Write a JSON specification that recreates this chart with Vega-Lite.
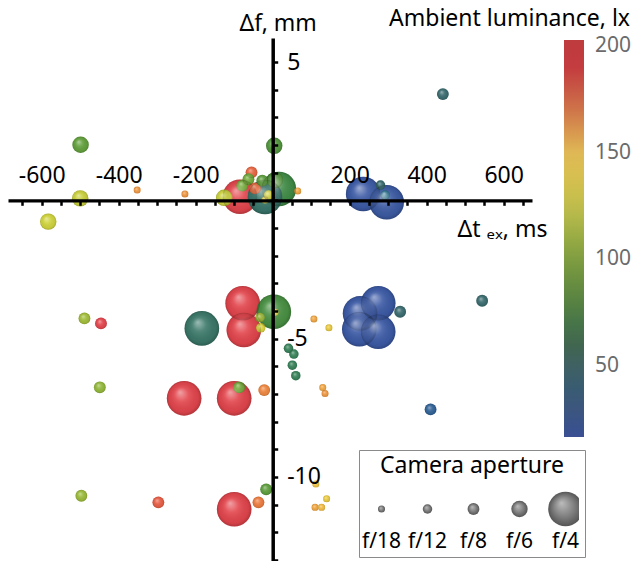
{
  "$schema": "https://vega.github.io/schema/vega-lite/v6.json",
  "autosize": {"type": "none"},
  "padding": {"left": 8, "top": 38, "right": 102, "bottom": 0},
  "width": 524,
  "height": 523,
  "config": {"font": "Noto Sans", "view": {"stroke": null}},
  "title": {"text": "Ambient luminance, lx", "anchor": "end", "frame": "group", "dx": 98, "dy": 47, "offset": 10, "baseline": "alphabetic", "fontSize": 23, "fontWeight": "normal", "color": "black"},
  "data": {"values": [
    {"t": -85, "f": 0.13, "lx": 195, "ap": "f/4"},
    {"t": 16, "f": 0.41, "lx": 72, "ap": "f/4"},
    {"t": -20, "f": 0.12, "lx": 55, "ap": "f/4"},
    {"t": 235, "f": 0.23, "lx": 20, "ap": "f/4"},
    {"t": 296, "f": -0.07, "lx": 22, "ap": "f/4"},
    {"t": -184, "f": -4.63, "lx": 57, "ap": "f/4"},
    {"t": -78, "f": -3.72, "lx": 195, "ap": "f/4"},
    {"t": -75, "f": -4.69, "lx": 195, "ap": "f/4"},
    {"t": 3, "f": -4.03, "lx": 78, "ap": "f/4"},
    {"t": -230, "f": -7.16, "lx": 195, "ap": "f/4"},
    {"t": -100, "f": -7.16, "lx": 195, "ap": "f/4"},
    {"t": -100, "f": -11.17, "lx": 195, "ap": "f/4"},
    {"t": 227, "f": -4.09, "lx": 20, "ap": "f/4"},
    {"t": 225, "f": -4.66, "lx": 20, "ap": "f/4"},
    {"t": 274, "f": -3.72, "lx": 20, "ap": "f/4"},
    {"t": 274, "f": -4.75, "lx": 20, "ap": "f/4"},
    {"t": -499, "f": 2.01, "lx": 92, "ap": "f/6"},
    {"t": 4, "f": 1.97, "lx": 85, "ap": "f/6"},
    {"t": -500, "f": 0.07, "lx": 125, "ap": "f/6"},
    {"t": -583, "f": -0.77, "lx": 127, "ap": "f/6"},
    {"t": -126, "f": 0.09, "lx": 125, "ap": "f/6"},
    {"t": 6, "f": 0.73, "lx": 85, "ap": "f/6"},
    {"t": 442, "f": 3.84, "lx": 45, "ap": "f/8"},
    {"t": -55, "f": 1.01, "lx": 175, "ap": "f/8"},
    {"t": -63, "f": 0.76, "lx": 98, "ap": "f/8"},
    {"t": -79, "f": 0.53, "lx": 100, "ap": "f/8"},
    {"t": -46, "f": 0.43, "lx": 172, "ap": "f/8"},
    {"t": -27, "f": 0.71, "lx": 90, "ap": "f/8"},
    {"t": -489, "f": -4.27, "lx": 112, "ap": "f/8"},
    {"t": -446, "f": -4.45, "lx": 188, "ap": "f/8"},
    {"t": 331, "f": -4.03, "lx": 45, "ap": "f/8"},
    {"t": 544, "f": -3.63, "lx": 45, "ap": "f/8"},
    {"t": -449, "f": -6.76, "lx": 108, "ap": "f/8"},
    {"t": -87, "f": -6.76, "lx": 100, "ap": "f/8"},
    {"t": -22, "f": -6.86, "lx": 165, "ap": "f/8"},
    {"t": 410, "f": -7.56, "lx": 32, "ap": "f/8"},
    {"t": -497, "f": -10.68, "lx": 110, "ap": "f/8"},
    {"t": -297, "f": -10.92, "lx": 178, "ap": "f/8"},
    {"t": -37, "f": -10.92, "lx": 168, "ap": "f/8"},
    {"t": -17, "f": -10.45, "lx": 90, "ap": "f/8"},
    {"t": -11, "f": 0.19, "lx": 130, "ap": "f/12"},
    {"t": 280, "f": 0.55, "lx": 45, "ap": "f/12"},
    {"t": 292, "f": 0.19, "lx": 38, "ap": "f/12"},
    {"t": -33, "f": -4.24, "lx": 112, "ap": "f/12"},
    {"t": -31, "f": -4.61, "lx": 132, "ap": "f/12"},
    {"t": 41, "f": -5.35, "lx": 65, "ap": "f/12"},
    {"t": 55, "f": -5.56, "lx": 65, "ap": "f/12"},
    {"t": 51, "f": -5.96, "lx": 65, "ap": "f/12"},
    {"t": 60, "f": -6.34, "lx": 65, "ap": "f/12"},
    {"t": -352, "f": 0.37, "lx": 160, "ap": "f/18"},
    {"t": -228, "f": 0.23, "lx": 160, "ap": "f/18"},
    {"t": -20, "f": 0.01, "lx": 135, "ap": "f/18"},
    {"t": 65, "f": 0.34, "lx": 155, "ap": "f/18"},
    {"t": 6, "f": -4.05, "lx": 135, "ap": "f/18"},
    {"t": 107, "f": -4.29, "lx": 155, "ap": "f/18"},
    {"t": 146, "f": -4.61, "lx": 140, "ap": "f/18"},
    {"t": 130, "f": -6.77, "lx": 155, "ap": "f/18"},
    {"t": 136, "f": -6.98, "lx": 160, "ap": "f/18"},
    {"t": 112, "f": -10.26, "lx": 145, "ap": "f/18"},
    {"t": 140, "f": -10.79, "lx": 140, "ap": "f/18"},
    {"t": 110, "f": -11.1, "lx": 155, "ap": "f/18"},
    {"t": 127, "f": -11.1, "lx": 148, "ap": "f/18"}
  ]},
  "encoding": {
    "x": {
      "field": "t", "type": "quantitative",
      "scale": {"domain": [-687.5, 673.5], "nice": false, "zero": false},
      "axis": {
        "orient": "top", "offset": -162.3, "zindex": 1, "grid": false,
        "title": "Δt ₑₓ, ms", "titleAngle": 0, "titleX": 539, "titleY": 36,
        "titleAlign": "right", "titleBaseline": "alphabetic",
        "titleFontSize": 23, "titleFontWeight": "normal", "titleColor": "black",
        "values": [-650, -600, -550, -500, -450, -400, -350, -300, -250, -200, -150, -100, -50, 0, 50, 100, 150, 200, 250, 300, 350, 400, 450, 500, 550, 600, 650],
        "labelExpr": "datum.value % 200 == 0 && datum.value != 0 ? '' + datum.value : ''",
        "labelFontSize": 23, "labelColor": "black", "labelPadding": 18,
        "labelFlush": false, "labelOverlap": false,
        "tickSize": -5, "tickWidth": 2.5, "tickColor": "black",
        "domainColor": "black", "domainWidth": 3.3
      }
    },
    "y": {
      "field": "f", "type": "quantitative",
      "scale": {"domain": [-13.04, 5.868], "nice": false, "zero": false},
      "axis": {
        "orient": "right", "offset": -259.3, "zindex": 1, "grid": false,
        "title": "Δf, mm", "titleAngle": 0, "titleX": 5, "titleY": -8,
        "titleAlign": "center", "titleBaseline": "alphabetic",
        "titleFontSize": 23, "titleFontWeight": "normal", "titleColor": "black",
        "values": [-13, -12, -11, -10, -9, -8, -7, -6, -5, -4, -3, -2, -1, 0, 1, 2, 3, 4, 5],
        "labelExpr": "datum.value == 5 || datum.value == -5 || datum.value == -10 ? '' + datum.value : ''",
        "labelFontSize": 23, "labelColor": "black", "labelPadding": 9,
        "labelFlush": false, "labelOverlap": false,
        "tickSize": 5, "tickWidth": 2.5, "tickColor": "black",
        "domainColor": "black", "domainWidth": 3.5
      }
    },
    "size": {
      "field": "ap", "type": "ordinal",
      "scale": {"type": "ordinal", "domain": ["f/18", "f/12", "f/8", "f/6", "f/4"], "range": [49, 90, 140, 270, 1200]}
    }
  },
  "layer": [
    {
      "mark": {"type": "point", "filled": true, "opacity": 1, "strokeWidth": 0},
      "encoding": {
        "color": {
          "field": "lx", "type": "quantitative",
          "scale": {
            "domain": [16.6, 30, 45, 60, 70, 85, 100, 115, 130, 145, 158, 172, 187, 203],
            "range": ["#3d58a8", "#3d5f9c", "#3a6c70", "#3e7b66", "#3f8a48", "#52963e", "#78ae3c", "#aec23c", "#d9d83e", "#f2c445", "#f2a045", "#ea6d40", "#e4464d", "#e0434b"]
          },
          "legend": null
        },
        "size": {
          "field": "ap", "type": "ordinal",
          "scale": {"type": "ordinal", "domain": ["f/18", "f/12", "f/8", "f/6", "f/4"], "range": [49, 90, 140, 270, 1200]},
          "legend": {
            "orient": "none", "legendX": 351, "legendY": 412, "direction": "horizontal",
            "columns": 5, "gridAlign": "all",
            "title": "Camera aperture", "titleFontSize": 23, "titleFontWeight": "normal", "titleLimit": 400,
            "titleColor": "black", "titleAnchor": "middle", "titlePadding": 13,
            "padding": 5, "strokeColor": "#8a8a8a", "fillColor": "white",
            "clipHeight": 36, "symbolStrokeWidth": 0, "symbolOffset": 0, "labelOffset": 0,
            "columnPadding": 5, "labelFontSize": 21, "labelColor": "black", "symbolType": "circle",
            "encoding": {
              "symbols": {
                "fill": {"value": {"gradient": "radial", "x1": 0.38, "y1": 0.32, "r1": 0, "x2": 0.5, "y2": 0.5, "r2": 0.5,
                  "stops": [{"offset": 0, "color": "#bdbdbd"}, {"offset": 1, "color": "#555555"}]}},
                "stroke": {"value": "transparent"},
                "opacity": {"value": 1}
              },
              "labels": {
                "align": {"value": "center"},
                "baseline": {"value": "alphabetic"},
                "dx": {"value": -17.5},
                "dy": {"value": 39}
              }
            }
          }
        }
      }
    },
    {
      "mark": {
        "type": "point", "filled": true, "opacity": 1, "strokeWidth": 0,
        "fill": {"gradient": "radial", "x1": 0.38, "y1": 0.32, "r1": 0, "x2": 0.5, "y2": 0.5, "r2": 0.5,
          "stops": [
            {"offset": 0, "color": "rgba(255,255,255,0.5)"},
            {"offset": 0.4, "color": "rgba(255,255,255,0.1)"},
            {"offset": 0.85, "color": "rgba(0,0,0,0.05)"},
            {"offset": 1, "color": "rgba(0,0,0,0.22)"}
          ]}
      },
      "encoding": {
        "size": {
          "field": "ap", "type": "ordinal",
          "scale": {"type": "ordinal", "domain": ["f/18", "f/12", "f/8", "f/6", "f/4"], "range": [49, 90, 140, 270, 1200]},
          "legend": null
        }
      }
    },
    {
      "mark": {"type": "point", "filled": true, "opacity": 0, "strokeWidth": 0},
      "encoding": {
        "color": {
          "field": "lx", "type": "quantitative",
          "scale": {
            "domain": [16.6, 35, 50, 60, 75, 90, 105, 120, 135, 150, 160, 175, 190, 203],
            "range": ["#3b4f93", "#405776", "#3f6163", "#41664f", "#4e7c43", "#6a8f40", "#8ba442", "#b3b84a", "#d4c34f", "#dfb855", "#d8974f", "#c9644a", "#c43c3f", "#be3b3e"]
          },
          "legend": {
            "orient": "none", "legendX": 556, "legendY": 2, "direction": "vertical",
            "title": null,
            "gradientLength": 397, "gradientThickness": 20, "gradientStrokeWidth": 0,
            "values": [50, 100, 150, 200],
            "labelFontSize": 21, "labelColor": "#6b6b6b", "labelOffset": 11, "padding": 0
          }
        },
        "size": {
          "field": "ap", "type": "ordinal",
          "scale": {"type": "ordinal", "domain": ["f/18", "f/12", "f/8", "f/6", "f/4"], "range": [49, 90, 140, 270, 1200]},
          "legend": null
        }
      }
    }
  ],
  "resolve": {"scale": {"color": "independent"}}
}
